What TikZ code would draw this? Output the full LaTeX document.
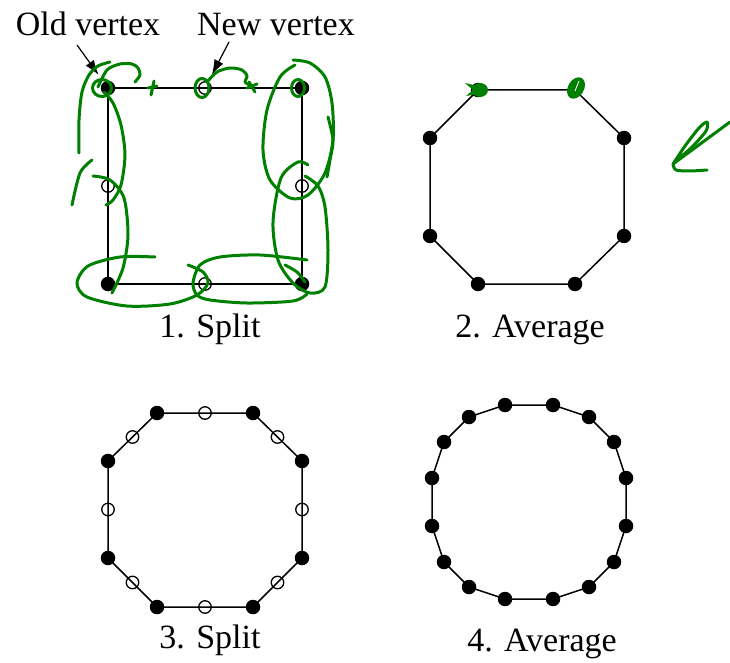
\documentclass[tikz,border=0pt]{standalone}
\usepackage{fontspec}
\setmainfont{Liberation Serif}
\usetikzlibrary{arrows.meta,positioning}

\begin{document}
\begin{tikzpicture}[
    x=1pt, y=-1pt,
    font=\fontsize{34}{40}\selectfont,
    >=Latex,
    line width=1.5pt,
    oldvtx/.style={circle, fill=black, inner sep=0pt, minimum size=14.5pt},
    newvtx/.style={circle, draw=black, line width=1.3pt, inner sep=0pt, minimum size=12.5pt},
    stagetext/.style={anchor=base, inner sep=0pt},
    pointer/.style={-{Latex[length=15pt,width=10pt]}, line width=1.2pt, shorten >=8pt},
    scribble/.style={draw=green!50!black, line width=3pt, line cap=round, line join=round},
    blob/.style={fill=green!50!black}
]
\useasboundingbox (0,0) rectangle (730,663);

\node[stagetext] (oldtxt) at (88,36) {Old vertex};
\node[stagetext] (newtxt) at (276,36) {New vertex};

\foreach \n/\x/\y in {1/108/88, 2/302/88, 3/302/284, 4/108/284}
  \node[oldvtx] (sq\n) at (\x,\y) {};
\foreach \n/\x/\y in {1/205/88, 2/302/186, 3/205/284, 4/108/186}
  \node[newvtx] (sqm\n) at (\x,\y) {};
\draw (sq1.center) -- (sq2.center) -- (sq3.center) -- (sq4.center) -- cycle;
\node[stagetext] (split1) at (210,337) {1. Split};

\draw[pointer] ([xshift=-11pt,yshift=-9pt]oldtxt.base) -- (sq1);
\draw[pointer] ([xshift=-47pt,yshift=-6pt]newtxt.base) -- (sqm1);

\foreach \n/\x/\y in {1/478/90, 2/575/90, 3/624/138, 4/624/236, 5/575/284, 6/478/284, 7/430/236, 8/430/138}
  \node[oldvtx] (oct\n) at (\x,\y) {};
\draw (oct1.center) \foreach \n in {2,...,8}{ -- (oct\n.center)} -- cycle;
\node[stagetext] (avg2) at (530,337) {2. Average};

\foreach \n/\x/\y in {1/157/413, 2/253/413, 3/302/461, 4/302/558, 5/253/607, 6/157/607, 7/108/558, 8/108/461}
  \node[oldvtx] (ref\n) at (\x,\y) {};
\foreach \n/\x/\y in {1/205/413, 2/277.5/437, 3/302/509.5, 4/277.5/582.5, 5/205/607, 6/132.5/582.5, 7/108/509.5, 8/132.5/437}
  \node[newvtx] (refm\n) at (\x,\y) {};
\draw (ref1.center) \foreach \n in {2,...,8}{ -- (ref\n.center)} -- cycle;
\node[stagetext] (split3) at (210,648) {3. Split};

\foreach \n/\x/\y in {1/505/405, 2/553/405, 3/589/417, 4/614/442, 5/626/478, 6/626/526, 7/614/562, 8/589/587,
                      9/553/599, 10/505/599, 11/469/587, 12/444/562, 13/432/526, 14/432/478, 15/444/442, 16/469/417}
  \node[oldvtx] (hex\n) at (\x,\y) {};
\draw (hex1.center) \foreach \n in {2,...,16}{ -- (hex\n.center)} -- cycle;
\node[stagetext] (avg4) at (542,651) {4. Average};

% hand-drawn marks
\draw[scribble] (102,88) ellipse [x radius=9.5pt, y radius=8.5pt];
\draw[scribble] plot[smooth] coordinates {(98,87) (107,70) (120,64) (132,64) (138,68) (140,75) (135,82)};
\draw[scribble] plot[smooth] coordinates {(79,153) (79,120) (82,92) (89,75) (98,66) (110,62)};
\draw[scribble] plot[smooth] coordinates {(104,92) (113,103) (121,125) (125,155) (121,185) (113,200) (106,205)};
\draw[scribble] plot[smooth] coordinates {(92,160) (80,173) (72,205)};
\draw[scribble] plot[smooth] coordinates {(93,176) (110,180) (124,198) (128,235) (123,268) (112,293)};
\draw[scribble] plot[smooth] coordinates {(155,257) (120,257) (88,266) (77,283) (87,297) (127,306) (170,304) (197,295) (208,283) (203,272) (188,265)};
\draw[scribble] plot[smooth] coordinates {(307,260) (260,255) (220,257) (200,265) (193,283) (197,295) (210,300) (247,303) (293,301) (307,294)};
\draw[scribble] plot[smooth] coordinates {(308,165) (298,162) (281,178) (273,222) (278,260) (293,283) (310,293) (325,287) (328,250) (325,207) (318,186) (305,176)};
\draw[scribble] plot[smooth] coordinates {(285,265) (297,272) (305,282)};
\draw[scribble] plot[smooth] coordinates {(295,65) (280,77) (267,110) (263,150) (270,180) (290,198) (308,195) (325,173) (333,140) (332,103) (325,77) (310,63) (293,60)};
\draw[scribble] plot[smooth] coordinates {(328,117) (333,140) (330,160) (327,177)};
\draw[scribble] (298,88) ellipse [x radius=6.5pt, y radius=8.5pt];
\draw[scribble] (202,88) ellipse [x radius=7pt, y radius=9.5pt];
\draw[scribble] plot[smooth] coordinates {(207,82) (217,72) (230,68) (242,70) (247,76) (245,82) (250,85)};
\draw[scribble] (148,88) -- (157,86) (154,81) -- (151,95);
\draw[scribble] (247,88) -- (257,84) (249,82) -- (255,92);

\fill[blob] (480,90) ellipse [x radius=8pt, y radius=7pt];
\fill[blob] (465,83) -- (478,86) -- (478,94) -- (466,96) -- (473,90) -- cycle;
\fill[blob, shift={(576,88)}, rotate=60] (0,0) ellipse [x radius=11.5pt, y radius=8pt];
\draw[white, line width=0.9pt] (579,81) -- (575,91);

\draw[scribble] (730,122) -- (673,164);
\draw[scribble] plot[smooth] coordinates {(673,164) (685,146) (699,128) (707,122) (706,131) (692,147) (677,160)};
\draw[scribble] plot[smooth] coordinates {(673,164) (676,170) (690,171) (707,170)};
\end{tikzpicture}
\end{document}
